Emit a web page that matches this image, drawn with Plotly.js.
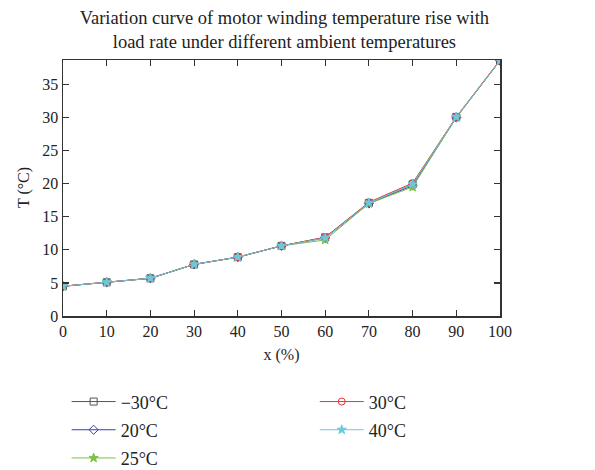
<!DOCTYPE html>
<html>
<head>
<meta charset="utf-8">
<script src="https://cdn.plot.ly/plotly-3.0.1.min.js"></script>
<style>html,body{margin:0;padding:0;background:#fff;}#chart{width:595px;height:470px;}</style>
</head>
<body>
<div id="chart"></div>
<script>
// Load rate (%) on the x axis
const loadRate = [0, 10, 20, 30, 40, 50, 60, 70, 80, 90, 100];

// Winding temperature rise (°C) for each ambient temperature
const tMinus30 = [4.5, 5.1, 5.7, 7.8, 8.9, 10.6, 11.9, 17.1, 19.9, 30.1, 38.6];
const t20      = [4.5, 5.1, 5.7, 7.8, 8.9, 10.6, 11.8, 17.0, 19.7, 30.0, 38.6];
const t25      = [4.5, 5.1, 5.7, 7.8, 8.9, 10.6, 11.5, 17.0, 19.5, 30.0, 38.6];
const t30      = [4.5, 5.1, 5.7, 7.8, 8.9, 10.6, 11.9, 17.2, 20.1, 30.1, 38.7];
const t40      = [4.5, 5.1, 5.7, 7.8, 8.9, 10.6, 11.8, 17.1, 19.9, 30.1, 38.6];

const seriesNames = ['\u221230\u00b0C', '20\u00b0C', '25\u00b0C', '30\u00b0C', '40\u00b0C'];
const xTicks = [0, 10, 20, 30, 40, 50, 60, 70, 80, 90, 100];
const yTicks = [0, 5, 10, 15, 20, 25, 30, 35];
const yTitle = 'T (\u00b0C)';

const styles = [
  {color: '#555555', symbol: 'square-open'},
  {color: '#3a3fa8', symbol: 'diamond-open'},
  {color: '#7cc045', symbol: 'star'},
  {color: '#e8333a', symbol: 'circle-open'},
  {color: '#6cc8de', symbol: 'star'}
];
const values = [tMinus30, t20, t25, t30, t40];

// Legend slots: two columns (left: −30, 20, 25; right: 30, 40)
const legendIds = ['legend', 'legend2', 'legend3', 'legend4', 'legend5'];
const slotCol = [0, 0, 0, 1, 1];
const slotRow = [0, 1, 2, 0, 1];
const colX = [0.112, 0.529];
const rowY = [0.145, 0.085, 0.025];

const traces = values.map((y, i) => ({
  x: loadRate,
  y: y,
  name: seriesNames[i],
  type: 'scatter',
  mode: 'lines+markers',
  legend: legendIds[i],
  line: {color: styles[i].color, width: 1},
  marker: {symbol: styles[i].symbol, size: 7, color: styles[i].color,
           line: {color: styles[i].color, width: 1}}
}));

const serif = 'Liberation Serif, Times New Roman, serif';
const axisFont = {family: serif, size: 16, color: '#222'};
const legendFont = {family: serif, size: 18, color: '#222'};

const layout = {
  width: 595,
  height: 470,
  margin: {l: 63, r: 95, t: 60, b: 154, autoexpand: false},
  paper_bgcolor: '#fff',
  plot_bgcolor: '#fff',
  font: axisFont,
  title: {
    text: 'Variation curve of motor winding temperature rise with<br>load rate under different ambient temperatures',
    font: {family: serif, size: 18.5, color: '#222'},
    x: 0.478, xanchor: 'center', yref: 'container', y: 0.95, yanchor: 'top'
  },
  xaxis: {
    range: [0, 100],
    tickvals: xTicks,
    ticks: 'inside', ticklen: 6, tickwidth: 1.2, tickcolor: '#333',
    showline: true, linecolor: '#333', linewidth: 1.5, mirror: 'ticks',
    showgrid: false, zeroline: false,
    tickfont: axisFont,
    title: {text: 'x (%)', font: axisFont, standoff: 10}
  },
  yaxis: {
    range: [0, 38.7],
    tickvals: yTicks,
    ticks: 'inside', ticklen: 6, tickwidth: 1.2, tickcolor: '#333',
    showline: true, linecolor: '#333', linewidth: 1.5, mirror: 'ticks',
    showgrid: false, zeroline: false,
    tickfont: axisFont
  },
  // vertical axis title, set beside the tick labels
  annotations: [{
    text: yTitle,
    xref: 'paper', yref: 'paper',
    x: -0.089, y: 0.5,
    xanchor: 'center', yanchor: 'middle',
    textangle: -90,
    showarrow: false,
    font: axisFont
  }],
  showlegend: true
};

legendIds.forEach((id, i) => {
  layout[id] = {
    orientation: 'v',
    xref: 'container', yref: 'container',
    x: colX[slotCol[i]], xanchor: 'left',
    y: rowY[slotRow[i]], yanchor: 'middle',
    font: legendFont,
    itemwidth: 44,
    bgcolor: 'rgba(0,0,0,0)'
  };
});

Plotly.newPlot('chart', traces, layout, {displayModeBar: false, staticPlot: true});
</script>
</body>
</html>
